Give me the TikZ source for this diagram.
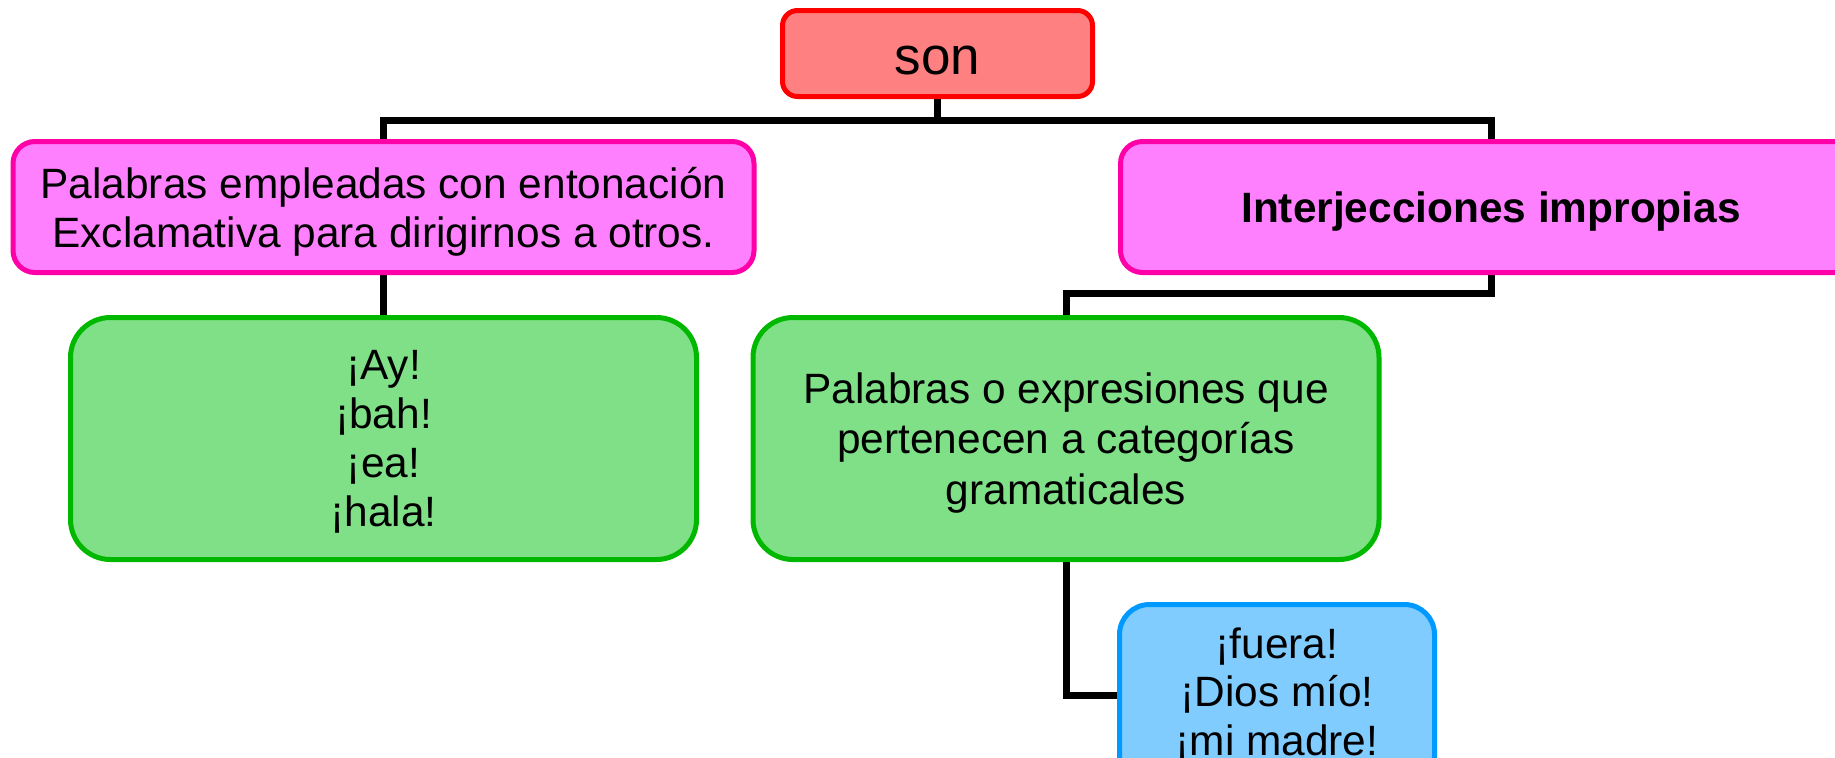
\documentclass[tikz,border=0pt]{standalone}
\usepackage{fontspec}
\setmainfont{Liberation Sans}
\usepackage{tikz}
\usetikzlibrary{backgrounds}
\definecolor{sonfill}{HTML}{FF8080}
\definecolor{sonline}{HTML}{FF0000}
\definecolor{pinkfill}{HTML}{FF80FF}
\definecolor{pinkline}{HTML}{FF00A8}
\definecolor{greenfill}{HTML}{80E088}
\definecolor{greenline}{HTML}{00B800}
\definecolor{bluefill}{HTML}{80CCFF}
\definecolor{blueline}{HTML}{0099FF}

\begin{document}
\begin{tikzpicture}[x=0.5pt, y=-0.5pt,
    box/.style={draw, line width=2.5pt, align=center, inner sep=0pt, font=\fontsize{21.2}{24.4}\selectfont},
    head/.style={box, fill=sonfill, draw=sonline, rounded corners=7.5pt, minimum width=155pt, minimum height=43pt},
    level/.style={box, fill=pinkfill, draw=pinkline, rounded corners=11pt, minimum width=370.5pt, minimum height=65.5pt},
    leaf/.style={box, fill=greenfill, draw=greenline, rounded corners=20pt, minimum width=313pt, minimum height=121pt},
    sub/.style={box, fill=bluefill, draw=blueline, rounded corners=15pt, minimum width=157.5pt, minimum height=90.5pt},
    link/.style={line width=3.5pt}]
    \useasboundingbox (0,0) rectangle (1835,757);
    \clip (0,0) rectangle (1835,757);

    \node[head, font=\fontsize{26.5}{30}\selectfont, text height=21pt, text depth=0pt] (son) at (937.5,53.5) {son};
    \node[level, text depth=-1.3pt] (propias) at (383.5,207) {Palabras empleadas con entonación\\Exclamativa para dirigirnos a otros.};
    \node[level, font=\fontsize{21.2}{24.4}\selectfont\bfseries, text depth=-2.5pt] (impropias) at (1491,207) {Interjecciones impropias};
    \node[leaf, font=\fontsize{21.2}{24.6}\selectfont, text depth=-3.7pt] (ejpropias) at (383.5,438.5) {¡Ay!\\¡bah!\\¡ea!\\¡hala!};
    \node[leaf, font=\fontsize{21.2}{25.4}\selectfont, text depth=-1.3pt] (categorias) at (1066,438.5) {Palabras o expresiones que\\pertenecen a categorías\\gramaticales};
    \node[sub] (ejimpropias) at (1277,695) {¡fuera!\\¡Dios mío!\\¡mi madre!};

    \coordinate (bus) at (937.5,120);
    \coordinate (knee) at (1066,293);
    \begin{scope}[on background layer]
      \draw[link] (son.south) -- (bus);
      \draw[link] (propias.north) |- (bus) -| (impropias.north);
      \draw[link] (propias.south) -- (ejpropias.north);
      \draw[link] (impropias.south) |- (knee) -- (categorias.north);
      \draw[link] (categorias.south) |- (ejimpropias.west);
    \end{scope}
  \end{tikzpicture}
\end{document}
